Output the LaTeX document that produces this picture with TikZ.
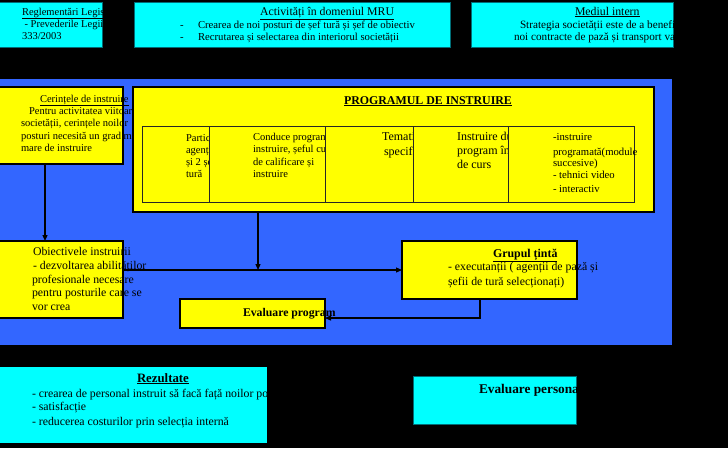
\documentclass[tikz,border=0pt]{standalone}
\usepackage{fontspec}
\setmainfont{Liberation Serif}
\usetikzlibrary{arrows.meta}
\definecolor{bgblue}{RGB}{51,102,255}
\definecolor{cyanbox}{RGB}{0,255,255}
\definecolor{yellowbox}{RGB}{255,255,0}
\definecolor{tealedge}{RGB}{0,110,120}
\newcommand{\fsBody}{\fontsize{10.5}{12}\selectfont}
\newcommand{\fsSmall}{\fontsize{10.7}{12}\selectfont}
\newcommand{\fsBig}{\fontsize{12}{14}\selectfont}
\newcommand{\fsMid}{\fontsize{11.8}{13}\selectfont}
\newcommand{\fsTitle}{\bfseries\fontsize{11.9}{13}\selectfont}
\newcommand{\fsTitleL}{\bfseries\fontsize{12.8}{14}\selectfont}
\tikzset{
  cbox/.style={draw=tealedge, line width=0.8pt, fill=cyanbox, anchor=north west, inner sep=0pt, outer sep=0pt},
  cboxplain/.style={fill=cyanbox, anchor=north west, inner sep=0pt, outer sep=0pt},
  ybox/.style={draw=black, line width=1.8pt, fill=yellowbox, anchor=north west, inner sep=0pt, outer sep=0pt},
  tbl/.style={draw=black!85, line width=0.9pt, anchor=north west, inner sep=0pt, outer sep=0pt},
  txt/.style={anchor=base west, inner sep=0pt, outer sep=0pt, font=\fsBody, text=black},
  txts/.style={txt, font=\fsSmall},
  txtb/.style={txt, font=\fsBig},
  txtm/.style={txt, font=\fsMid},
  ttl/.style={txt, font=\fsTitle},
  ttll/.style={txt, font=\fsTitleL},
  conn/.style={line width=1.2pt, black},
  arr/.style={conn, -{Triangle[length=6pt,width=5pt]}},
}
\begin{document}
\begin{tikzpicture}[x=1pt,y=-1pt]
\useasboundingbox (0,0) rectangle (728,448);
\fill[black] (0,0) rectangle (728,448);

% ---------- top cyan boxes ----------
\node[cbox, minimum width=103pt, minimum height=45pt] (regl) at (-1,2) {};
\begin{scope}
\clip (0,2) rectangle (103,47);
\node[txt] (regl1) at (22,15) {\underline{Reglementări Legislative}};
\node[txt] (regl2) at (22,27) {\ - Prevederile Legii nr.};
\node[txt] (regl3) at (22,39) {333/2003};
\end{scope}

\node[cbox, minimum width=316pt, minimum height=45pt] (mru) at (134,2) {};
\node[txtm] (mru1) at (260,15) {\underline{Activități în domeniul MRU}};
\node[txts] (mrud1) at (180,28) {-};
\node[txts] (mru2) at (198,28) {Crearea de noi posturi de șef tură și șef de obiectiv};
\node[txts] (mrud2) at (180,40) {-};
\node[txts] (mru3) at (198,40) {Recrutarea și selectarea din interiorul societății};

\node[cbox, minimum width=202pt, minimum height=45pt] (med) at (471,2) {};
\begin{scope}
\clip (471,2) rectangle (673,47);
\node[txtm] (med1) at (575,15) {\underline{Mediul intern}};
\node[txt, font=\fontsize{11.2}{13}\selectfont] (med2) at (520,28) {Strategia societății este de a beneficia de};
\node[txt, font=\fontsize{11.2}{13}\selectfont] (med3) at (514,40) {noi contracte de pază și transport valori};
\end{scope}

% ---------- blue panel ----------
\fill[bgblue] (0,79) rectangle (672,345);

% ---------- Cerintele ----------
\node[ybox, minimum width=124pt, minimum height=77pt] (cer) at (-1,87) {};
\node[txt] (cer1) at (40,102) {\underline{Cerințele de instruire}};
\node[txt] (cer2) at (29,114) {Pentru activitatea viitoare a};
\node[txt] (cer3) at (21,126.5) {societății, cerințele noilor};
\node[txt] (cer4) at (21,139) {posturi necesită un grad mai};
\node[txt] (cer5) at (21,151.5) {mare de instruire};

% ---------- Programul de instruire ----------
\node[ybox, minimum width=521pt, minimum height=125pt] (prog) at (133,87) {};
\node[ttl] (progt) at (344,104) {\underline{PROGRAMUL DE INSTRUIRE}};
\node[tbl, minimum width=492pt, minimum height=76pt] (tab) at (142,126) {};
\foreach \sx in {67,183,271,366}
  \draw[black!85, line width=0.9pt] ([xshift=\sx pt]tab.north west) -- ([xshift=\sx pt]tab.south west);

\begin{scope}
\clip (142,126) rectangle (208.5,202);
\node[txt] (c11) at (186,141) {Participă};
\node[txt] (c12) at (186,153) {agenții};
\node[txt] (c13) at (186,165) {și 2 șefi de};
\node[txt] (c14) at (186,177) {tură};
\end{scope}
\begin{scope}
\clip (209,126) rectangle (324.5,202);
\node[txt] (c21) at (253,140) {Conduce programul de};
\node[txt] (c22) at (253,152) {instruire, șeful cursului};
\node[txt] (c23) at (253,165) {de calificare și};
\node[txt] (c24) at (253,177) {instruire};
\end{scope}
\begin{scope}
\clip (325,126) rectangle (412.5,202);
\node[txtb] (c31) at (382,140) {Tematică};
\node[txtb] (c32) at (384,155) {specifică};
\end{scope}
\begin{scope}
\clip (413,126) rectangle (507.5,202);
\node[txtb] (c41) at (457,140) {Instruire după};
\node[txtb] (c42) at (457,154) {program în afara};
\node[txtb] (c43) at (457,168) {de curs};
\end{scope}
\node[txts] (c51) at (553,140) {-instruire};
\node[txts] (c52) at (553,155) {programată(module};
\node[txts] (c53) at (553,166) {succesive)};
\node[txts] (c54) at (553,178) {- tehnici video};
\node[txts] (c55) at (553,192) {- interactiv};

% ---------- Obiectivele ----------
\node[ybox, minimum width=124pt, minimum height=77pt] (obj) at (-1,241) {};

% ---------- Grupul tinta ----------
\node[ybox, minimum width=175pt, minimum height=58pt] (grup) at (402,241) {};

% ---------- Evaluare program ----------
\node[ybox, minimum width=145pt, minimum height=29pt] (evp) at (180,299) {};

% ---------- connectors ----------
\coordinate (j) at (258,270);
\coordinate (k) at (480,318);
\draw[arr] ([xshift=46pt]cer.south west) -- ([xshift=46pt]obj.north west);
\draw[arr] (prog.south -| j) -- (j);
\draw[arr] (obj.east |- j) -- (grup.west |- j);
\draw[arr] (grup.south -| k) -- (k) -- (evp.east |- k);

% ---------- texts over boxes ----------
\node[txtm] (obj1) at (33,255) {Obiectivele instruirii};
\node[txtm] (obj2) at (33,269) {- dezvoltarea abilităților};
\node[txtm] (obj3) at (32,283) {profesionale necesare};
\node[txtm] (obj4) at (32,296) {pentru posturile care se};
\node[txtm] (obj5) at (32,310) {vor crea};

\node[ttl] (grup1) at (493,257) {\underline{Grupul țintă}};
\node[txtm] (grup2) at (448,270) {- executanții ( agenții de pază și};
\node[txtm] (grup3) at (448,285) {șefii de tură selecționați)};

\node[txt, font=\bfseries\fontsize{11.75}{13}\selectfont] (evp1) at (243,316) {Evaluare program};

% ---------- bottom cyan boxes ----------
\node[cboxplain, minimum width=267pt, minimum height=76pt] (rez) at (0,367) {};
\begin{scope}
\clip (0,367) rectangle (267,443);
\node[ttll] (rez1) at (137,382) {\underline{Rezultate}};
\node[txtm] (rez2) at (32,397) {- crearea de personal instruit să facă față noilor posturi};
\node[txtm] (rez3) at (32,410) {- satisfacție};
\node[txtm] (rez4) at (32,425) {- reducerea costurilor prin selecția internă};
\end{scope}

\node[cbox, minimum width=163pt, minimum height=48pt] (evpers) at (413,376) {};
\begin{scope}
\clip (413,376) rectangle (576,424);
\node[txt, font=\bfseries\fontsize{13.3}{15}\selectfont] (evpers1) at (479,393) {Evaluare personal};
\end{scope}
\end{tikzpicture}
\end{document}
